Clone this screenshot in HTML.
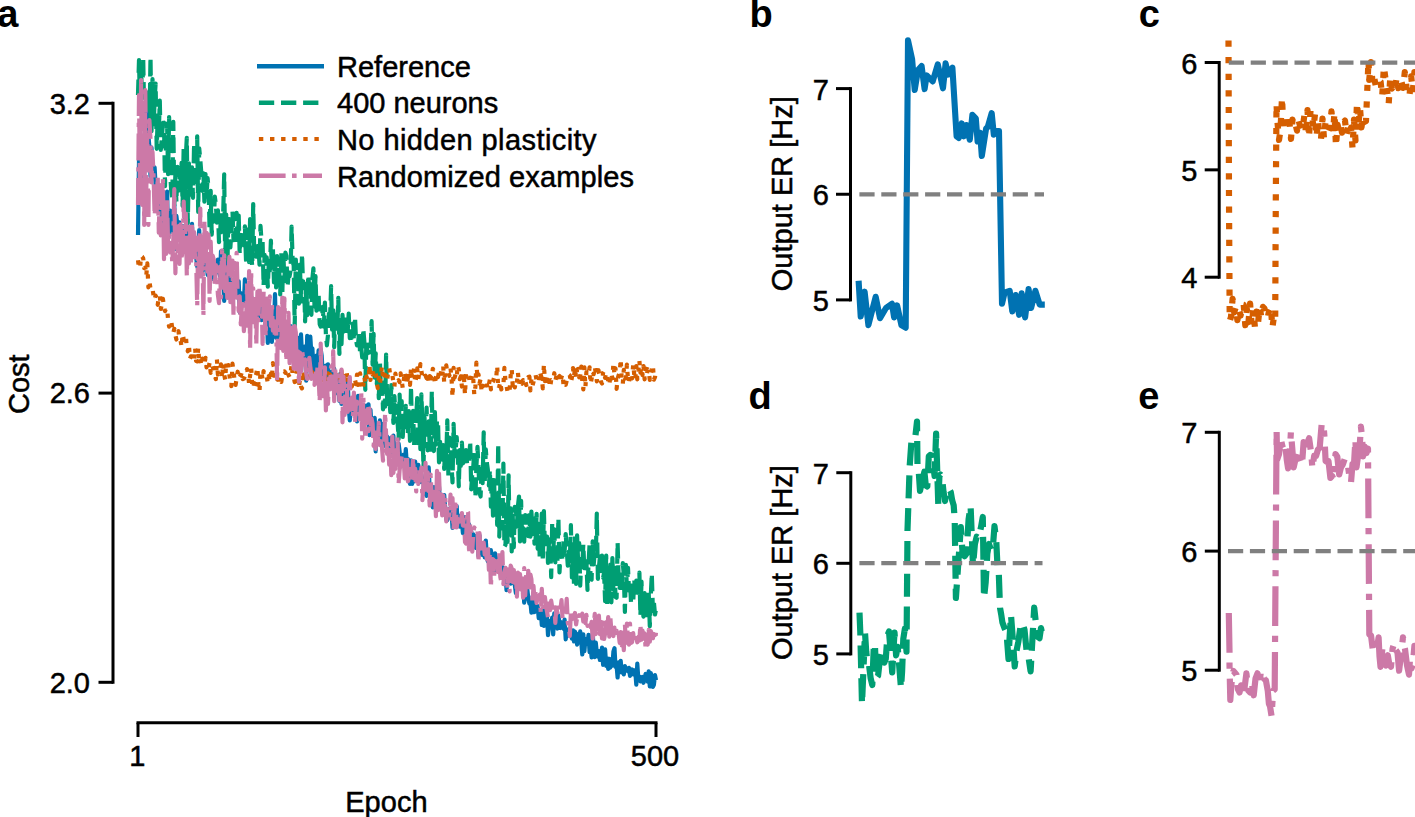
<!DOCTYPE html>
<html><head><meta charset="utf-8"><style>html,body{margin:0;padding:0;background:#fff;overflow:hidden}svg{display:block}</style></head>
<body><svg width="1415" height="817" viewBox="0 0 1415 817">
<rect width="1415" height="817" fill="#fff"/>
<path d="M138.0 95.0L139.0 60.0L140.1 110.0L141.1 70.0L142.2 100.0L143.2 57.6L144.2 115.9L145.3 125.3L146.3 92.0L147.3 117.5L148.4 94.0L149.4 133.4L150.5 57.0L151.5 131.2L152.5 79.0L153.6 126.5L154.6 99.8L155.6 83.5L156.7 148.8L157.7 117.5L158.8 131.8L159.8 100.7L160.8 149.9L161.9 136.8L162.9 122.9L164.0 122.7L165.0 186.2L166.0 142.1L167.1 123.5L168.1 174.2L169.1 117.1L170.2 173.6L171.2 190.6L172.3 199.5L173.3 121.9L174.3 205.4L175.4 174.1L176.4 202.0L177.4 166.8L178.5 190.7L179.5 170.5L180.6 187.7L181.6 162.9L182.6 206.0L183.7 146.2L184.7 217.8L185.8 157.0L186.8 137.9L187.8 223.2L188.9 163.3L189.9 197.2L190.9 183.0L192.0 167.3L193.0 197.8L194.1 143.5L195.1 187.1L196.1 170.3L197.2 136.4L198.2 211.9L199.2 148.3L200.3 159.8L201.3 172.7L202.4 190.8L203.4 173.3L204.4 201.7L205.5 174.2L206.5 196.7L207.6 178.2L208.6 189.1L209.6 229.2L210.7 190.8L211.7 234.7L212.7 218.9L213.8 221.3L214.8 196.5L215.9 205.1L216.9 222.7L217.9 210.3L219.0 242.2L220.0 237.3L221.0 212.5L222.1 234.5L223.1 217.7L224.2 174.3L225.2 259.4L226.2 214.5L227.3 275.5L228.3 216.2L229.4 246.7L230.4 247.2L231.4 231.8L232.5 211.5L233.5 240.2L234.5 230.5L235.6 240.0L236.6 212.8L237.7 243.3L238.7 215.5L239.7 254.0L240.8 229.8L241.8 242.1L242.8 234.1L243.9 245.3L244.9 226.3L246.0 259.9L247.0 262.2L248.0 229.4L249.1 262.1L250.1 219.1L251.2 252.8L252.2 266.3L253.2 204.1L254.3 255.1L255.3 252.8L256.3 256.7L257.4 246.0L258.4 246.4L259.5 264.6L260.5 225.9L261.5 240.6L262.6 241.9L263.6 285.7L264.6 254.8L265.7 277.9L266.7 257.4L267.8 286.6L268.8 261.7L269.8 270.5L270.9 240.5L271.9 271.5L272.9 248.4L274.0 282.4L275.0 256.4L276.1 287.5L277.1 256.2L278.1 279.3L279.2 270.2L280.2 294.4L281.3 251.8L282.3 294.7L283.3 252.3L284.4 281.2L285.4 252.7L286.4 255.8L287.5 286.6L288.5 275.9L289.6 276.2L290.6 270.0L291.6 226.5L292.7 262.2L293.7 265.3L294.7 326.7L295.8 259.6L296.8 278.9L297.9 278.9L298.9 303.6L299.9 264.7L301.0 301.5L302.0 253.8L303.1 285.8L304.1 283.3L305.1 321.5L306.2 285.2L307.2 315.1L308.2 275.1L309.3 287.4L310.3 279.2L311.4 314.8L312.4 278.5L313.4 268.4L314.5 306.7L315.5 276.2L316.5 310.7L317.6 301.0L318.6 294.2L319.7 324.2L320.7 326.6L321.7 323.1L322.8 306.8L323.8 326.7L324.9 302.6L325.9 334.6L326.9 345.4L328.0 334.9L329.0 312.0L330.0 320.5L331.1 286.2L332.1 329.6L333.2 310.4L334.2 347.2L335.2 310.9L336.3 310.3L337.3 328.9L338.3 297.9L339.4 354.0L340.4 319.8L341.5 344.1L342.5 314.8L343.5 331.7L344.6 322.6L345.6 330.8L346.7 316.3L347.7 331.2L348.7 313.7L349.8 338.1L350.8 326.0L351.8 337.9L352.9 323.7L353.9 340.7L355.0 316.9L356.0 339.7L357.0 345.4L358.1 343.9L359.1 331.4L360.1 353.9L361.2 347.1L362.2 357.3L363.3 328.7L364.3 341.1L365.3 389.8L366.4 340.1L367.4 353.2L368.5 351.6L369.5 354.6L370.5 353.1L371.6 321.2L372.6 364.6L373.6 333.9L374.7 377.7L375.7 353.3L376.8 384.0L377.8 366.9L378.8 398.1L379.9 360.8L380.9 392.0L381.9 378.2L383.0 409.3L384.0 385.5L385.1 406.6L386.1 354.6L387.1 397.9L388.2 406.0L389.2 394.9L390.3 412.2L391.3 385.2L392.3 399.3L393.4 423.0L394.4 396.0L395.4 413.3L396.5 405.9L397.5 420.5L398.6 438.9L399.6 394.5L400.6 424.6L401.7 401.2L402.7 437.0L403.7 421.0L404.8 423.1L405.8 405.9L406.9 434.5L407.9 433.1L408.9 411.0L410.0 440.8L411.0 386.2L412.1 438.3L413.1 410.8L414.1 445.6L415.2 411.4L416.2 417.6L417.2 398.1L418.3 447.4L419.3 411.6L420.4 449.2L421.4 394.4L422.4 423.1L423.5 469.3L424.5 417.4L425.5 434.6L426.6 407.5L427.6 450.3L428.7 421.3L429.7 447.0L430.7 451.7L431.8 391.2L432.8 448.9L433.9 451.0L434.9 412.1L435.9 444.6L437.0 420.4L438.0 420.6L439.0 462.3L440.1 441.9L441.1 458.0L442.2 459.6L443.2 445.1L444.2 469.0L445.3 447.1L446.3 457.0L447.3 420.4L448.4 475.9L449.4 437.7L450.5 444.9L451.5 464.5L452.5 482.5L453.6 423.9L454.6 456.5L455.7 449.1L456.7 437.0L457.7 454.1L458.8 486.3L459.8 450.2L460.8 465.8L461.9 442.5L462.9 463.5L464.0 455.1L465.0 460.6L466.0 450.2L467.1 464.3L468.1 464.9L469.1 463.3L470.2 441.1L471.2 489.3L472.3 473.3L473.3 466.4L474.3 450.6L475.4 497.3L476.4 466.2L477.5 446.9L478.5 467.2L479.5 492.7L480.6 496.5L481.6 469.2L482.6 483.2L483.7 432.4L484.7 483.6L485.8 449.4L486.8 462.4L487.8 469.2L488.9 485.5L489.9 470.0L490.9 506.6L492.0 477.3L493.0 515.6L494.1 480.2L495.1 517.7L496.1 493.9L497.2 525.0L498.2 443.6L499.3 536.6L500.3 485.4L501.3 524.4L502.4 528.4L503.4 463.6L504.4 546.7L505.5 544.9L506.5 504.6L507.6 541.9L508.6 475.3L509.6 534.6L510.7 508.4L511.7 551.5L512.7 515.3L513.8 547.3L514.8 506.9L515.9 508.4L516.9 526.7L517.9 506.4L519.0 496.5L520.0 541.5L521.1 500.9L522.1 537.4L523.1 528.2L524.2 541.6L525.2 515.0L526.2 527.4L527.3 515.8L528.3 536.2L529.4 515.2L530.4 536.6L531.4 511.6L532.5 534.2L533.5 518.4L534.5 543.6L535.6 538.8L536.6 513.8L537.7 548.8L538.7 523.8L539.7 556.9L540.8 548.9L541.8 513.6L542.8 561.5L543.9 511.0L544.9 547.4L546.0 548.1L547.0 536.6L548.0 563.0L549.1 539.3L550.1 540.3L551.2 577.1L552.2 522.8L553.2 553.0L554.3 529.4L555.3 562.3L556.3 548.5L557.4 562.5L558.4 518.0L559.5 572.4L560.5 554.6L561.5 551.0L562.6 561.2L563.6 539.1L564.6 551.3L565.7 534.0L566.7 549.9L567.8 565.6L568.8 551.7L569.8 560.9L570.9 525.0L571.9 577.5L573.0 546.1L574.0 585.4L575.0 536.2L576.1 583.9L577.1 535.4L578.1 561.5L579.2 543.2L580.2 585.7L581.3 558.9L582.3 565.5L583.3 544.3L584.4 571.6L585.4 563.8L586.4 561.5L587.5 589.9L588.5 564.6L589.6 543.8L590.6 578.8L591.6 579.6L592.7 541.3L593.7 564.3L594.8 552.2L595.8 554.8L596.8 513.6L597.9 578.8L598.9 567.9L599.9 556.6L601.0 571.2L602.0 555.5L603.1 577.6L604.1 572.9L605.1 601.1L606.2 555.5L607.2 607.0L608.2 575.8L609.3 595.2L610.3 564.5L611.4 602.3L612.4 558.1L613.4 589.8L614.5 562.8L615.5 597.0L616.6 597.7L617.6 542.3L618.6 576.8L619.7 587.8L620.7 570.2L621.7 592.3L622.8 563.0L623.8 575.1L624.9 611.9L625.9 564.9L626.9 588.1L628.0 567.9L629.0 590.6L630.0 582.2L631.1 603.7L632.1 580.1L633.2 602.5L634.2 578.7L635.2 592.9L636.3 580.6L637.3 597.0L638.4 596.6L639.4 572.6L640.4 615.9L641.5 581.6L642.5 611.1L643.5 616.7L644.6 593.2L645.6 604.9L646.7 599.7L647.7 618.8L648.7 592.1L649.8 626.3L650.8 595.6L651.8 573.5L652.9 610.9L653.9 602.4L655.0 614.5L656.0 609.3" fill="none" stroke="#009e73" stroke-width="4.2" stroke-dasharray="15.5 6.7" stroke-linejoin="round"/>
<path d="M138.0 235.0L139.0 160.0L140.1 190.0L141.1 140.0L142.2 185.0L143.2 150.0L144.2 175.0L145.3 145.0L146.3 112.5L147.3 147.8L148.4 135.5L149.4 147.2L150.5 176.2L151.5 147.6L152.5 176.3L153.6 172.7L154.6 167.4L155.6 185.3L156.7 199.3L157.7 185.5L158.8 193.6L159.8 211.5L160.8 189.2L161.9 220.6L162.9 198.1L164.0 211.8L165.0 233.9L166.0 216.3L167.1 191.5L168.1 238.5L169.1 230.4L170.2 210.7L171.2 224.2L172.3 215.0L173.3 233.0L174.3 205.0L175.4 248.9L176.4 215.9L177.4 225.7L178.5 231.2L179.5 222.4L180.6 227.0L181.6 246.0L182.6 226.2L183.7 238.5L184.7 235.1L185.8 242.8L186.8 225.9L187.8 251.4L188.9 249.9L189.9 229.7L190.9 243.5L192.0 223.8L193.0 254.1L194.1 252.5L195.1 242.0L196.1 256.5L197.2 266.6L198.2 247.8L199.2 230.0L200.3 265.8L201.3 242.0L202.4 271.6L203.4 269.2L204.4 244.1L205.5 268.5L206.5 256.3L207.6 275.0L208.6 261.1L209.6 276.9L210.7 258.1L211.7 279.0L212.7 263.8L213.8 275.9L214.8 267.3L215.9 273.0L216.9 268.3L217.9 259.5L219.0 266.2L220.0 276.1L221.0 251.4L222.1 276.2L223.1 265.5L224.2 301.0L225.2 263.0L226.2 281.4L227.3 287.6L228.3 273.0L229.4 274.8L230.4 290.0L231.4 280.1L232.5 286.4L233.5 280.8L234.5 291.5L235.6 293.4L236.6 286.3L237.7 291.8L238.7 281.3L239.7 312.2L240.8 293.0L241.8 303.2L242.8 298.5L243.9 303.1L244.9 279.4L246.0 299.7L247.0 306.1L248.0 311.9L249.1 301.4L250.1 314.5L251.2 296.5L252.2 311.9L253.2 303.8L254.3 302.8L255.3 314.8L256.3 301.8L257.4 306.4L258.4 317.9L259.5 305.5L260.5 300.0L261.5 320.1L262.6 318.7L263.6 308.2L264.6 316.1L265.7 327.9L266.7 312.7L267.8 342.9L268.8 303.7L269.8 324.2L270.9 315.2L271.9 341.9L272.9 323.2L274.0 327.2L275.0 294.2L276.1 337.8L277.1 335.1L278.1 317.3L279.2 337.8L280.2 340.9L281.3 328.1L282.3 347.6L283.3 311.4L284.4 328.9L285.4 340.4L286.4 333.6L287.5 343.5L288.5 332.7L289.6 341.2L290.6 326.2L291.6 341.5L292.7 333.4L293.7 332.6L294.7 337.9L295.8 353.5L296.8 341.4L297.9 347.2L298.9 337.8L299.9 351.2L301.0 334.3L302.0 355.7L303.1 348.2L304.1 363.6L305.1 346.3L306.2 380.6L307.2 335.9L308.2 356.9L309.3 350.2L310.3 336.6L311.4 354.6L312.4 348.4L313.4 368.3L314.5 372.0L315.5 361.6L316.5 355.5L317.6 368.4L318.6 350.3L319.7 375.6L320.7 349.2L321.7 355.8L322.8 376.6L323.8 370.5L324.9 373.4L325.9 365.5L326.9 385.0L328.0 364.3L329.0 385.1L330.0 375.9L331.1 380.5L332.1 371.5L333.2 387.8L334.2 368.6L335.2 388.0L336.3 375.8L337.3 393.4L338.3 380.1L339.4 400.9L340.4 373.6L341.5 403.9L342.5 379.7L343.5 394.5L344.6 389.6L345.6 386.6L346.7 397.7L347.7 380.0L348.7 407.0L349.8 420.4L350.8 404.2L351.8 410.8L352.9 397.8L353.9 411.9L355.0 399.6L356.0 413.5L357.0 421.3L358.1 395.8L359.1 416.3L360.1 406.8L361.2 412.8L362.2 410.1L363.3 421.8L364.3 423.2L365.3 411.3L366.4 405.7L367.4 423.5L368.5 404.4L369.5 435.1L370.5 409.9L371.6 429.2L372.6 420.0L373.6 424.2L374.7 417.9L375.7 451.4L376.8 425.5L377.8 430.5L378.8 438.7L379.9 420.3L380.9 442.8L381.9 438.7L383.0 423.9L384.0 438.8L385.1 446.0L386.1 439.3L387.1 436.5L388.2 449.6L389.2 438.9L390.3 452.9L391.3 437.5L392.3 450.2L393.4 435.7L394.4 450.7L395.4 463.3L396.5 454.6L397.5 452.1L398.6 443.5L399.6 451.5L400.6 464.4L401.7 457.5L402.7 466.0L403.7 454.6L404.8 465.2L405.8 449.1L406.9 466.4L407.9 459.1L408.9 476.4L410.0 484.0L411.0 460.3L412.1 484.0L413.1 461.6L414.1 481.4L415.2 461.5L416.2 478.5L417.2 476.5L418.3 464.8L419.3 479.4L420.4 481.9L421.4 474.8L422.4 480.3L423.5 481.2L424.5 493.8L425.5 486.6L426.6 495.8L427.6 488.0L428.7 467.4L429.7 490.6L430.7 489.6L431.8 498.7L432.8 507.3L433.9 487.2L434.9 497.4L435.9 488.6L437.0 504.9L438.0 485.8L439.0 486.6L440.1 504.1L441.1 499.6L442.2 513.2L443.2 514.1L444.2 495.0L445.3 510.6L446.3 519.2L447.3 520.1L448.4 508.9L449.4 513.7L450.5 517.5L451.5 509.1L452.5 528.0L453.6 521.8L454.6 509.4L455.7 525.4L456.7 506.0L457.7 525.5L458.8 515.5L459.8 526.6L460.8 523.0L461.9 521.2L462.9 533.2L464.0 523.2L465.0 517.1L466.0 531.0L467.1 522.4L468.1 537.6L469.1 524.4L470.2 538.4L471.2 531.1L472.3 549.2L473.3 534.4L474.3 545.7L475.4 536.2L476.4 548.1L477.5 535.5L478.5 556.2L479.5 535.3L480.6 553.1L481.6 543.7L482.6 555.0L483.7 545.7L484.7 557.3L485.8 540.5L486.8 556.6L487.8 561.3L488.9 552.5L489.9 561.8L490.9 550.2L492.0 559.1L493.0 557.6L494.1 571.6L495.1 553.4L496.1 558.7L497.2 567.1L498.2 566.1L499.3 558.4L500.3 571.7L501.3 564.6L502.4 568.3L503.4 567.7L504.4 581.0L505.5 569.2L506.5 590.2L507.6 573.0L508.6 578.7L509.6 572.2L510.7 583.6L511.7 582.5L512.7 576.2L513.8 574.3L514.8 584.9L515.9 593.1L516.9 591.0L517.9 576.2L519.0 584.4L520.0 576.6L521.1 588.7L522.1 582.1L523.1 583.7L524.2 602.6L525.2 591.0L526.2 597.1L527.3 589.2L528.3 598.5L529.4 603.6L530.4 602.1L531.4 612.6L532.5 596.6L533.5 612.2L534.5 611.9L535.6 607.3L536.6 605.5L537.7 606.3L538.7 618.1L539.7 610.8L540.8 610.4L541.8 625.0L542.8 616.1L543.9 625.8L544.9 606.8L546.0 620.2L547.0 616.1L548.0 635.2L549.1 625.8L550.1 621.1L551.2 625.3L552.2 617.5L553.2 634.4L554.3 613.4L555.3 622.9L556.3 623.7L557.4 628.5L558.4 615.4L559.5 623.1L560.5 628.0L561.5 622.3L562.6 626.0L563.6 628.8L564.6 619.6L565.7 639.3L566.7 631.8L567.8 634.6L568.8 629.1L569.8 635.9L570.9 632.7L571.9 638.6L573.0 630.3L574.0 641.5L575.0 631.6L576.1 634.6L577.1 644.6L578.1 634.0L579.2 642.4L580.2 631.4L581.3 642.6L582.3 654.5L583.3 634.4L584.4 651.1L585.4 639.0L586.4 639.2L587.5 643.7L588.5 634.9L589.6 652.1L590.6 645.6L591.6 657.3L592.7 633.3L593.7 648.6L594.8 657.1L595.8 642.6L596.8 652.6L597.9 656.5L598.9 651.1L599.9 659.9L601.0 658.6L602.0 647.7L603.1 664.8L604.1 658.3L605.1 649.3L606.2 665.9L607.2 658.3L608.2 668.9L609.3 658.8L610.3 667.6L611.4 659.2L612.4 665.6L613.4 651.7L614.5 648.2L615.5 667.0L616.6 665.8L617.6 677.5L618.6 662.3L619.7 669.9L620.7 660.8L621.7 672.5L622.8 667.2L623.8 674.4L624.9 666.1L625.9 669.8L626.9 668.4L628.0 671.3L629.0 667.8L630.0 675.8L631.1 673.0L632.1 669.5L633.2 674.3L634.2 672.1L635.2 670.3L636.3 684.7L637.3 663.7L638.4 680.4L639.4 676.5L640.4 681.4L641.5 678.7L642.5 677.0L643.5 682.8L644.6 678.2L645.6 674.0L646.7 675.1L647.7 681.7L648.7 671.3L649.8 686.4L650.8 673.1L651.8 679.3L652.9 686.9L653.9 684.8L655.0 675.1L656.0 680.2" fill="none" stroke="#0072b2" stroke-width="4.2" stroke-linejoin="round"/>
<path d="M138.0 260.2L139.0 268.2L140.1 267.3L141.1 255.8L142.2 256.7L143.2 258.4L144.2 268.1L145.3 267.5L146.3 275.5L147.3 263.4L148.4 287.3L149.4 280.8L150.5 288.9L151.5 287.5L152.5 288.7L153.6 295.7L154.6 299.8L155.6 295.6L156.7 297.9L157.7 304.8L158.8 297.5L159.8 295.5L160.8 308.9L161.9 304.3L162.9 298.7L164.0 307.2L165.0 311.1L166.0 308.6L167.1 308.7L168.1 319.7L169.1 326.7L170.2 321.8L171.2 320.6L172.3 329.2L173.3 333.0L174.3 328.7L175.4 335.1L176.4 339.5L177.4 333.5L178.5 331.2L179.5 339.6L180.6 340.4L181.6 347.0L182.6 334.1L183.7 339.2L184.7 339.6L185.8 335.4L186.8 347.7L187.8 351.3L188.9 344.8L189.9 358.7L190.9 356.4L192.0 356.4L193.0 356.2L194.1 360.6L195.1 348.0L196.1 360.8L197.2 361.4L198.2 347.8L199.2 361.2L200.3 358.3L201.3 365.1L202.4 358.5L203.4 361.6L204.4 364.5L205.5 357.8L206.5 367.3L207.6 363.8L208.6 368.0L209.6 362.6L210.7 372.8L211.7 370.3L212.7 366.0L213.8 371.3L214.8 375.5L215.9 379.1L216.9 359.3L217.9 374.5L219.0 372.4L220.0 369.4L221.0 364.3L222.1 378.3L223.1 363.5L224.2 374.9L225.2 379.6L226.2 362.6L227.3 370.7L228.3 365.1L229.4 374.7L230.4 382.7L231.4 386.1L232.5 363.7L233.5 371.3L234.5 379.3L235.6 384.9L236.6 378.3L237.7 371.7L238.7 378.3L239.7 376.8L240.8 375.7L241.8 372.5L242.8 379.2L243.9 378.7L244.9 376.2L246.0 375.4L247.0 369.0L248.0 373.8L249.1 383.9L250.1 375.5L251.2 367.9L252.2 384.5L253.2 379.7L254.3 389.1L255.3 376.8L256.3 373.6L257.4 367.6L258.4 384.2L259.5 391.6L260.5 371.3L261.5 372.3L262.6 379.7L263.6 371.1L264.6 374.5L265.7 374.0L266.7 377.2L267.8 382.6L268.8 376.1L269.8 381.5L270.9 373.5L271.9 377.9L272.9 363.1L274.0 367.2L275.0 380.7L276.1 372.3L277.1 379.3L278.1 379.1L279.2 383.7L280.2 380.6L281.3 381.9L282.3 375.1L283.3 371.5L284.4 371.3L285.4 372.7L286.4 368.9L287.5 372.3L288.5 375.0L289.6 377.1L290.6 373.5L291.6 364.0L292.7 375.1L293.7 376.8L294.7 382.0L295.8 378.9L296.8 371.6L297.9 371.1L298.9 387.4L299.9 379.9L301.0 386.5L302.0 388.4L303.1 370.8L304.1 378.1L305.1 378.7L306.2 379.4L307.2 379.4L308.2 377.5L309.3 377.5L310.3 367.5L311.4 375.7L312.4 372.3L313.4 377.6L314.5 374.2L315.5 380.8L316.5 382.2L317.6 379.2L318.6 379.4L319.7 378.2L320.7 375.0L321.7 376.9L322.8 375.0L323.8 380.4L324.9 378.3L325.9 381.8L326.9 370.5L328.0 383.9L329.0 374.1L330.0 374.4L331.1 377.7L332.1 375.6L333.2 380.9L334.2 375.8L335.2 373.0L336.3 374.4L337.3 387.5L338.3 380.0L339.4 372.8L340.4 380.0L341.5 370.8L342.5 390.9L343.5 371.2L344.6 383.3L345.6 383.8L346.7 372.0L347.7 382.6L348.7 386.9L349.8 383.8L350.8 382.5L351.8 386.6L352.9 381.7L353.9 382.7L355.0 379.8L356.0 384.2L357.0 374.7L358.1 385.0L359.1 377.1L360.1 373.4L361.2 382.1L362.2 389.9L363.3 385.4L364.3 376.5L365.3 383.6L366.4 376.6L367.4 378.5L368.5 379.6L369.5 365.1L370.5 380.0L371.6 372.6L372.6 374.5L373.6 369.7L374.7 369.3L375.7 372.7L376.8 383.2L377.8 388.1L378.8 377.9L379.9 384.4L380.9 376.2L381.9 366.2L383.0 378.5L384.0 380.1L385.1 374.8L386.1 379.0L387.1 380.6L388.2 371.8L389.2 368.0L390.3 375.5L391.3 375.4L392.3 374.5L393.4 382.4L394.4 386.7L395.4 373.7L396.5 380.3L397.5 381.7L398.6 380.2L399.6 382.1L400.6 373.4L401.7 380.2L402.7 387.9L403.7 380.5L404.8 372.0L405.8 379.3L406.9 383.2L407.9 377.8L408.9 372.2L410.0 384.8L411.0 368.1L412.1 378.6L413.1 375.4L414.1 368.3L415.2 382.8L416.2 377.5L417.2 368.4L418.3 379.0L419.3 372.8L420.4 364.0L421.4 371.2L422.4 376.9L423.5 379.1L424.5 376.3L425.5 375.6L426.6 378.1L427.6 374.0L428.7 382.3L429.7 376.1L430.7 377.0L431.8 378.4L432.8 368.8L433.9 370.9L434.9 384.3L435.9 377.1L437.0 373.4L438.0 377.1L439.0 372.1L440.1 376.7L441.1 371.0L442.2 376.6L443.2 365.5L444.2 382.9L445.3 371.8L446.3 365.4L447.3 373.5L448.4 372.6L449.4 375.8L450.5 368.0L451.5 377.5L452.5 397.0L453.6 367.8L454.6 377.6L455.7 373.9L456.7 377.1L457.7 365.3L458.8 369.4L459.8 379.2L460.8 376.4L461.9 386.6L462.9 372.8L464.0 378.2L465.0 394.8L466.0 372.9L467.1 372.3L468.1 377.7L469.1 377.8L470.2 383.3L471.2 379.2L472.3 374.0L473.3 380.0L474.3 394.8L475.4 386.7L476.4 362.6L477.5 378.6L478.5 374.4L479.5 383.5L480.6 378.9L481.6 391.7L482.6 385.9L483.7 385.8L484.7 381.8L485.8 380.6L486.8 383.1L487.8 389.0L488.9 384.6L489.9 379.4L490.9 389.4L492.0 383.0L493.0 381.6L494.1 377.5L495.1 379.0L496.1 378.8L497.2 366.0L498.2 389.0L499.3 386.5L500.3 381.9L501.3 389.4L502.4 385.6L503.4 385.1L504.4 367.9L505.5 381.3L506.5 385.7L507.6 392.1L508.6 393.4L509.6 390.8L510.7 375.1L511.7 368.8L512.7 385.3L513.8 381.9L514.8 387.4L515.9 380.8L516.9 382.8L517.9 372.3L519.0 383.9L520.0 378.4L521.1 383.1L522.1 383.7L523.1 380.1L524.2 382.6L525.2 380.5L526.2 385.0L527.3 383.4L528.3 377.0L529.4 376.6L530.4 390.5L531.4 379.3L532.5 385.7L533.5 382.0L534.5 376.2L535.6 375.0L536.6 380.1L537.7 380.8L538.7 382.8L539.7 371.4L540.8 375.3L541.8 378.2L542.8 388.3L543.9 364.4L544.9 381.1L546.0 375.1L547.0 380.8L548.0 375.2L549.1 380.2L550.1 387.3L551.2 380.0L552.2 380.4L553.2 380.0L554.3 373.2L555.3 380.9L556.3 376.4L557.4 372.7L558.4 377.3L559.5 376.1L560.5 382.0L561.5 377.1L562.6 374.2L563.6 386.0L564.6 383.2L565.7 384.8L566.7 380.8L567.8 376.4L568.8 374.5L569.8 375.3L570.9 382.6L571.9 377.6L573.0 368.0L574.0 376.6L575.0 368.3L576.1 377.7L577.1 369.4L578.1 369.0L579.2 377.3L580.2 376.0L581.3 366.5L582.3 380.9L583.3 389.3L584.4 367.4L585.4 387.2L586.4 372.1L587.5 373.2L588.5 375.0L589.6 367.4L590.6 383.8L591.6 378.9L592.7 371.4L593.7 374.2L594.8 366.7L595.8 373.7L596.8 381.3L597.9 365.4L598.9 373.0L599.9 376.4L601.0 381.8L602.0 383.5L603.1 372.6L604.1 370.9L605.1 378.0L606.2 373.0L607.2 373.3L608.2 381.6L609.3 385.2L610.3 376.6L611.4 373.7L612.4 378.3L613.4 363.5L614.5 374.6L615.5 368.3L616.6 388.9L617.6 378.9L618.6 375.3L619.7 373.3L620.7 359.3L621.7 378.6L622.8 384.0L623.8 369.8L624.9 378.2L625.9 378.4L626.9 364.7L628.0 379.5L629.0 382.0L630.0 375.2L631.1 373.4L632.1 378.4L633.2 364.4L634.2 374.1L635.2 379.8L636.3 366.0L637.3 379.3L638.4 370.8L639.4 360.8L640.4 372.6L641.5 367.3L642.5 375.0L643.5 366.0L644.6 379.3L645.6 368.5L646.7 375.0L647.7 369.2L648.7 370.8L649.8 379.8L650.8 373.9L651.8 370.3L652.9 365.1L653.9 379.6L655.0 377.1L656.0 370.7" fill="none" stroke="#d55e00" stroke-width="4.2" stroke-dasharray="4.2 6.9" stroke-linejoin="round"/>
<path d="M138.0 205.0L139.0 95.0L140.1 200.0L141.1 80.0L142.2 205.0L143.2 110.0L144.2 225.0L145.3 90.0L146.3 190.0L147.3 130.0L148.4 225.0L149.4 120.0L150.5 139.2L151.5 182.4L152.5 151.8L153.6 176.5L154.6 215.6L155.6 202.4L156.7 210.7L157.7 176.3L158.8 232.7L159.8 185.2L160.8 235.4L161.9 206.0L162.9 177.8L164.0 259.1L165.0 215.5L166.0 254.0L167.1 200.2L168.1 244.9L169.1 235.3L170.2 252.5L171.2 242.8L172.3 263.5L173.3 240.1L174.3 189.2L175.4 273.3L176.4 236.1L177.4 254.7L178.5 226.1L179.5 264.0L180.6 224.3L181.6 260.2L182.6 248.0L183.7 201.5L184.7 251.6L185.8 213.5L186.8 275.5L187.8 237.5L188.9 263.4L189.9 222.8L190.9 265.9L192.0 222.6L193.0 251.9L194.1 232.2L195.1 260.5L196.1 258.8L197.2 305.9L198.2 237.3L199.2 270.2L200.3 208.5L201.3 278.9L202.4 236.3L203.4 315.8L204.4 220.1L205.5 263.9L206.5 232.8L207.6 271.6L208.6 234.6L209.6 301.0L210.7 241.7L211.7 273.7L212.7 255.7L213.8 259.7L214.8 287.0L215.9 265.1L216.9 276.8L217.9 294.7L219.0 303.1L220.0 266.7L221.0 297.4L222.1 250.4L223.1 290.3L224.2 255.3L225.2 291.1L226.2 268.3L227.3 297.9L228.3 274.2L229.4 256.8L230.4 302.1L231.4 278.5L232.5 260.6L233.5 315.9L234.5 262.8L235.6 301.7L236.6 252.9L237.7 293.8L238.7 310.9L239.7 296.3L240.8 324.5L241.8 307.1L242.8 304.1L243.9 331.2L244.9 313.1L246.0 330.6L247.0 283.4L248.0 326.3L249.1 271.1L250.1 349.4L251.2 271.5L252.2 326.4L253.2 288.3L254.3 326.0L255.3 306.1L256.3 344.8L257.4 291.7L258.4 322.3L259.5 286.0L260.5 304.2L261.5 293.9L262.6 343.9L263.6 291.3L264.6 309.9L265.7 336.3L266.7 298.7L267.8 321.4L268.8 305.3L269.8 296.4L270.9 326.0L271.9 303.5L272.9 330.7L274.0 321.2L275.0 337.7L276.1 321.4L277.1 381.7L278.1 307.2L279.2 326.0L280.2 309.0L281.3 348.3L282.3 297.5L283.3 351.0L284.4 298.4L285.4 333.8L286.4 361.4L287.5 322.5L288.5 312.8L289.6 363.2L290.6 331.1L291.6 357.8L292.7 327.4L293.7 368.6L294.7 326.1L295.8 332.4L296.8 369.5L297.9 351.4L298.9 381.7L299.9 352.6L301.0 371.7L302.0 349.9L303.1 357.7L304.1 364.5L305.1 359.3L306.2 373.0L307.2 379.0L308.2 365.9L309.3 357.8L310.3 367.3L311.4 378.8L312.4 372.3L313.4 372.2L314.5 384.9L315.5 373.4L316.5 383.5L317.6 365.0L318.6 377.1L319.7 401.3L320.7 343.6L321.7 392.6L322.8 384.1L323.8 400.8L324.9 367.3L325.9 410.4L326.9 384.2L328.0 403.8L329.0 378.3L330.0 389.5L331.1 366.3L332.1 388.4L333.2 351.1L334.2 401.1L335.2 368.8L336.3 390.6L337.3 388.9L338.3 375.5L339.4 400.3L340.4 378.6L341.5 369.5L342.5 422.3L343.5 376.7L344.6 415.0L345.6 383.8L346.7 383.2L347.7 411.9L348.7 390.8L349.8 377.0L350.8 409.6L351.8 397.6L352.9 416.8L353.9 392.6L355.0 423.2L356.0 401.6L357.0 401.8L358.1 403.5L359.1 402.9L360.1 422.1L361.2 390.6L362.2 438.7L363.3 396.5L364.3 417.7L365.3 439.1L366.4 425.4L367.4 409.2L368.5 431.1L369.5 408.6L370.5 431.8L371.6 418.7L372.6 424.0L373.6 445.8L374.7 435.4L375.7 448.8L376.8 429.9L377.8 444.0L378.8 422.8L379.9 445.1L380.9 441.2L381.9 446.0L383.0 460.7L384.0 448.2L385.1 412.9L386.1 434.0L387.1 453.9L388.2 443.8L389.2 464.7L390.3 445.4L391.3 475.2L392.3 436.6L393.4 472.8L394.4 446.7L395.4 468.9L396.5 460.1L397.5 435.3L398.6 483.7L399.6 470.1L400.6 463.1L401.7 455.9L402.7 465.9L403.7 460.0L404.8 478.4L405.8 457.4L406.9 454.8L407.9 481.3L408.9 478.2L410.0 464.9L411.0 466.7L412.1 477.6L413.1 458.0L414.1 478.5L415.2 468.8L416.2 491.5L417.2 475.6L418.3 484.0L419.3 468.4L420.4 480.3L421.4 467.6L422.4 500.2L423.5 482.1L424.5 490.0L425.5 462.9L426.6 494.1L427.6 472.4L428.7 489.0L429.7 505.5L430.7 474.7L431.8 500.1L432.8 491.6L433.9 497.5L434.9 489.9L435.9 516.2L437.0 470.9L438.0 510.2L439.0 473.6L440.1 503.9L441.1 494.4L442.2 515.3L443.2 495.5L444.2 512.5L445.3 497.7L446.3 521.4L447.3 509.8L448.4 507.1L449.4 515.2L450.5 494.5L451.5 519.0L452.5 498.0L453.6 529.7L454.6 507.2L455.7 499.9L456.7 527.5L457.7 518.8L458.8 521.8L459.8 516.0L460.8 524.9L461.9 513.0L462.9 525.4L464.0 517.3L465.0 542.1L466.0 543.5L467.1 510.3L468.1 512.3L469.1 553.8L470.2 523.2L471.2 532.1L472.3 551.6L473.3 531.4L474.3 527.5L475.4 529.5L476.4 531.6L477.5 529.9L478.5 562.2L479.5 533.2L480.6 549.4L481.6 546.8L482.6 551.0L483.7 542.6L484.7 554.3L485.8 550.9L486.8 559.1L487.8 544.1L488.9 570.0L489.9 552.6L490.9 587.5L492.0 561.9L493.0 559.2L494.1 577.0L495.1 560.8L496.1 567.4L497.2 562.8L498.2 572.1L499.3 552.8L500.3 577.0L501.3 581.6L502.4 552.0L503.4 584.2L504.4 572.1L505.5 567.9L506.5 573.2L507.6 588.9L508.6 569.4L509.6 591.4L510.7 565.6L511.7 568.4L512.7 581.8L513.8 570.0L514.8 582.8L515.9 573.8L516.9 596.6L517.9 572.5L519.0 587.7L520.0 574.1L521.1 589.7L522.1 581.4L523.1 597.6L524.2 568.2L525.2 595.3L526.2 575.0L527.3 586.0L528.3 570.9L529.4 591.0L530.4 574.5L531.4 579.2L532.5 603.0L533.5 585.9L534.5 601.2L535.6 591.3L536.6 603.0L537.7 595.8L538.7 599.0L539.7 594.7L540.8 612.6L541.8 588.9L542.8 609.5L543.9 603.7L544.9 597.0L546.0 606.4L547.0 611.5L548.0 617.3L549.1 600.6L550.1 610.2L551.2 600.7L552.2 607.6L553.2 602.8L554.3 603.9L555.3 622.9L556.3 608.2L557.4 612.7L558.4 605.3L559.5 612.6L560.5 609.1L561.5 600.2L562.6 619.2L563.6 611.3L564.6 614.9L565.7 613.4L566.7 598.9L567.8 622.6L568.8 626.2L569.8 636.0L570.9 611.7L571.9 619.3L573.0 612.2L574.0 618.1L575.0 613.0L576.1 624.4L577.1 617.6L578.1 619.5L579.2 615.2L580.2 621.0L581.3 615.6L582.3 613.7L583.3 621.4L584.4 620.4L585.4 623.1L586.4 614.9L587.5 625.8L588.5 621.4L589.6 622.4L590.6 627.1L591.6 621.8L592.7 638.5L593.7 625.0L594.8 613.8L595.8 634.1L596.8 624.7L597.9 633.1L598.9 615.6L599.9 634.1L601.0 621.8L602.0 638.3L603.1 622.7L604.1 639.0L605.1 633.6L606.2 622.0L607.2 631.9L608.2 617.2L609.3 636.6L610.3 616.6L611.4 631.3L612.4 632.1L613.4 636.0L614.5 627.6L615.5 632.5L616.6 630.8L617.6 637.5L618.6 633.3L619.7 642.8L620.7 632.2L621.7 645.4L622.8 633.3L623.8 650.1L624.9 624.2L625.9 642.9L626.9 623.7L628.0 637.8L629.0 644.6L630.0 623.6L631.1 642.8L632.1 642.0L633.2 633.2L634.2 643.3L635.2 632.8L636.3 636.8L637.3 642.3L638.4 636.8L639.4 640.5L640.4 624.6L641.5 639.7L642.5 630.6L643.5 638.6L644.6 633.2L645.6 648.4L646.7 634.9L647.7 644.7L648.7 629.9L649.8 641.7L650.8 631.0L651.8 635.5L652.9 638.2L653.9 634.0L655.0 639.8L656.0 632.6" fill="none" stroke="#cc79a7" stroke-width="4.2" stroke-dasharray="26.9 6.7 4.2 6.7" stroke-linejoin="round"/>
<g stroke="#000" stroke-width="3" fill="none">
<path d="M113 101.8V683.8"/>
<path d="M98.5 103.3H113"/>
<path d="M98.5 393.1H113"/>
<path d="M98.5 682.3H113"/>
<path d="M136.5 722.8H657.5"/>
<path d="M138 722.8V737"/><path d="M656 722.8V737"/>
</g>
<g font-family="Liberation Sans" stroke="#000" stroke-width="0.5" font-size="29" fill="#000">
<text x="90" y="113.5" text-anchor="end">3.2</text>
<text x="90" y="403.3" text-anchor="end">2.6</text>
<text x="90" y="692.5" text-anchor="end">2.0</text>
<text x="137.2" y="766" text-anchor="middle">1</text>
<text x="655" y="766" text-anchor="middle">500</text>
<text x="386.4" y="811.6" text-anchor="middle">Epoch</text>
<text transform="translate(28.9 384.2) rotate(-90)" text-anchor="middle">Cost</text>
<text x="337" y="76.7">Reference</text>
<text x="337" y="113.3">400 neurons</text>
<text x="337" y="150.2" textLength="259.5" lengthAdjust="spacing">No hidden plasticity</text>
<text x="337" y="186.8" textLength="297" lengthAdjust="spacing">Randomized examples</text>
</g>
<path d="M257 66.2H324" stroke="#0072b2" stroke-width="4.5"/>
<path d="M258.9 102.8H319" stroke="#009e73" stroke-width="4.5" stroke-dasharray="15.3 6.8"/>
<path d="M258.9 139H319" stroke="#d55e00" stroke-width="4.2" stroke-dasharray="4.4 6.7"/>
<path d="M258.9 175.8H322" stroke="#cc79a7" stroke-width="4.5" stroke-dasharray="26.7 6.4 4.6 6.4"/>
<g font-family="Liberation Sans" font-size="38" font-weight="bold" fill="#000">
<text x="-2.8" y="27.1">a</text>
<text x="749.4" y="27.1">b</text>
<text x="1138.7" y="27.1">c</text>
<text x="748.4" y="409">d</text>
<text x="1138.3" y="409">e</text>
</g>
<g stroke="#000" stroke-width="3" fill="none">
<path d="M850.5 87.1V301.4"/>
<path d="M836.0 88.6H850.5"/>
<path d="M836.0 194.25H850.5"/>
<path d="M836.0 299.9H850.5"/>
</g>
<g font-family="Liberation Sans" stroke="#000" stroke-width="0.5" font-size="29" fill="#000">
<text x="829" y="99.6" text-anchor="end">7</text>
<text x="829" y="205.2" text-anchor="end">6</text>
<text x="829" y="310.9" text-anchor="end">5</text>
</g>
<text font-family="Liberation Sans" stroke="#000" stroke-width="0.5" font-size="29" transform="translate(792 193.7) rotate(-90)" text-anchor="middle">Output ER [Hz]</text>
<g stroke="#000" stroke-width="3" fill="none">
<path d="M1219.2 61V278.7"/>
<path d="M1204.7 62.5H1219.2"/>
<path d="M1204.7 169.85H1219.2"/>
<path d="M1204.7 277.2H1219.2"/>
</g>
<g font-family="Liberation Sans" stroke="#000" stroke-width="0.5" font-size="29" fill="#000">
<text x="1197.5" y="73.5" text-anchor="end">6</text>
<text x="1197.5" y="180.8" text-anchor="end">5</text>
<text x="1197.5" y="288.2" text-anchor="end">4</text>
</g>
<g stroke="#000" stroke-width="3" fill="none">
<path d="M850.8 471.2V655.4"/>
<path d="M836.3 472.7H850.8"/>
<path d="M836.3 563.3H850.8"/>
<path d="M836.3 653.9H850.8"/>
</g>
<g font-family="Liberation Sans" stroke="#000" stroke-width="0.5" font-size="29" fill="#000">
<text x="829" y="483.7" text-anchor="end">7</text>
<text x="829" y="574.3" text-anchor="end">6</text>
<text x="829" y="664.9" text-anchor="end">5</text>
</g>
<text font-family="Liberation Sans" stroke="#000" stroke-width="0.5" font-size="29" transform="translate(792 562.6) rotate(-90)" text-anchor="middle">Output ER [Hz]</text>
<g stroke="#000" stroke-width="3" fill="none">
<path d="M1219.3 430.8V671.7"/>
<path d="M1204.8 432.3H1219.3"/>
<path d="M1204.8 551.1H1219.3"/>
<path d="M1204.8 670.2H1219.3"/>
</g>
<g font-family="Liberation Sans" stroke="#000" stroke-width="0.5" font-size="29" fill="#000">
<text x="1197.5" y="443.3" text-anchor="end">7</text>
<text x="1197.5" y="562.1" text-anchor="end">6</text>
<text x="1197.5" y="681.2" text-anchor="end">5</text>
</g>
<path d="M858.6 280.8L860.7 316.5L864.6 291.7L868.4 325.1L875.7 296.8L880.0 318.2L886.0 308.0L892.0 303.7L894.1 317.4L897.1 305.4L901.4 325.1L905.7 327.7L908.0 40.3L912.1 59.1L914.7 90.0L918.0 70.0L921.6 66.0L924.6 89.1L926.7 75.4L932.7 81.4L937.8 64.3L943.0 88.3L945.6 63.4L948.1 74.6L952.4 67.7L956.6 136.3L958.7 138.0L961.7 123.4L963.9 136.3L966.4 125.1L969.8 139.7L972.4 114.9L975.8 118.3L977.6 141.4L980.1 132.8L981.8 156.0L986.1 128.6L987.8 126.8L991.7 113.1L993.8 134.6L996.4 131.1L999.0 131.1L1002.0 303.7L1004.6 292.6L1009.7 290.8L1012.3 311.4L1015.7 295.1L1019.1 314.8L1021.7 293.4L1025.1 317.4L1028.6 289.1L1031.1 308.0L1035.4 290.8L1039.7 304.6L1044.8 304.6" fill="none" stroke="#0072b2" stroke-width="6.1" stroke-linejoin="round"/>
<path d="M1228.5 40.5L1229.0 200.0L1229.7 321.3L1231.0 316.8L1232.6 298.9L1234.2 312.4L1235.8 306.9L1237.4 320.2L1239.0 309.8L1240.6 315.6L1242.1 304.4L1243.7 304.8L1245.3 325.2L1246.9 309.2L1248.5 322.1L1250.1 303.6L1251.7 325.5L1253.3 310.3L1254.9 326.9L1256.5 311.7L1258.1 322.4L1259.7 307.3L1261.3 317.0L1262.9 306.9L1264.4 308.4L1266.0 313.8L1267.6 318.4L1269.2 310.1L1270.8 306.6L1272.4 327.8L1274.0 316.2L1275.2 320.0L1275.8 200.0L1276.5 103.5L1277.3 120.0L1279.0 139.9L1280.5 130.3L1282.0 97.3L1283.5 131.1L1285.0 114.7L1286.5 114.8L1288.0 130.7L1289.5 123.2L1291.0 138.9L1292.5 119.6L1294.0 126.1L1295.5 123.8L1297.0 130.7L1298.5 120.0L1300.0 125.7L1301.5 121.4L1303.0 125.3L1304.5 114.7L1306.0 134.2L1307.5 110.1L1309.0 137.7L1310.5 110.4L1312.0 114.0L1313.5 128.6L1315.0 114.1L1316.5 137.3L1318.0 120.3L1319.5 136.6L1321.0 139.1L1322.5 118.5L1324.0 138.6L1325.5 122.0L1327.0 125.6L1328.5 130.7L1330.0 126.6L1331.5 111.4L1333.0 132.0L1334.5 112.6L1336.0 146.8L1337.5 124.5L1339.0 130.8L1340.5 124.2L1342.0 132.7L1343.5 122.8L1345.0 120.6L1346.5 134.7L1348.0 127.6L1349.5 134.0L1351.0 127.6L1352.5 147.8L1354.0 119.7L1355.5 140.5L1357.0 102.2L1358.5 123.5L1360.0 108.1L1361.5 127.4L1363.0 116.1L1364.5 121.9L1366.0 121.0L1368.5 60.0L1369.2 80.0L1371.0 62.1L1372.6 84.5L1374.2 77.8L1375.8 85.9L1377.4 80.4L1379.0 80.0L1380.6 81.6L1382.2 96.3L1383.9 66.5L1385.5 79.1L1387.1 90.3L1388.7 103.9L1390.3 76.7L1391.9 88.6L1393.5 84.3L1395.1 88.4L1396.7 77.3L1398.3 88.2L1399.9 79.0L1401.5 82.0L1403.1 87.9L1404.8 72.2L1406.4 86.4L1408.0 96.8L1409.6 94.8L1411.2 76.4L1412.8 91.6L1414.4 72.0L1416.0 92.4" fill="none" stroke="#d55e00" stroke-width="6.2" stroke-dasharray="6.2 10.4" stroke-linejoin="round"/>
<path d="M859.5 612.6L860.3 632.5L862.0 704.0L865.0 632.5L866.2 651.4L867.5 662.7L869.1 665.5L870.7 678.6L872.3 685.0L873.9 643.6L875.0 646.6L876.2 678.6L878.1 675.6L879.9 659.3L881.8 651.6L883.0 654.0L884.2 662.7L885.8 658.8L887.4 635.7L889.0 631.5L890.6 651.2L892.2 672.3L893.4 651.4L894.5 632.5L896.1 655.3L897.7 646.8L899.4 668.3L901.0 688.2L902.1 671.6L903.3 638.9L904.9 628.5L906.5 651.6L907.5 530.0L909.7 465.8L911.4 441.8L913.0 440.0L915.0 439.6L917.0 421.7L917.5 465.8L918.8 472.6L920.0 490.8L922.2 480.7L924.4 471.7L925.8 485.6L927.3 486.4L928.8 456.3L930.2 455.0L931.7 455.5L933.2 464.9L934.6 476.0L936.1 433.5L938.3 505.4L939.4 476.1L940.5 474.6L942.0 477.0L943.5 491.8L945.0 501.0L947.1 489.2L949.3 489.3L950.8 492.2L952.2 500.4L953.7 505.4L954.7 519.6L955.9 598.0L960.8 527.0L962.6 553.6L964.5 556.3L966.5 553.7L968.6 519.2L970.6 506.0L973.0 566.0L974.9 543.9L976.7 536.7L978.7 538.1L980.8 528.2L982.8 517.0L984.0 598.0L985.7 582.2L987.3 553.8L989.0 544.0L990.8 549.2L992.6 550.6L994.5 526.1L996.3 541.6L997.5 566.7L998.8 573.4L1000.0 607.7L1001.2 614.4L1002.4 622.4L1004.4 627.9L1006.5 632.6L1008.5 659.0L1009.8 633.9L1011.0 615.0L1012.9 640.2L1014.7 666.5L1016.5 650.9L1018.3 642.0L1020.4 627.1L1022.4 623.0L1024.5 629.7L1026.5 649.9L1028.6 657.9L1030.6 671.4L1034.2 607.7L1036.1 624.9L1038.0 637.0L1039.5 638.2L1041.0 628.0L1042.5 635.3L1044.0 629.7" fill="none" stroke="#009e73" stroke-width="6.2" stroke-dasharray="22.9 9.9" stroke-linejoin="round"/>
<path d="M1228.8 613.0L1229.5 651.0L1229.5 665.0L1230.3 700.0L1231.8 679.6L1233.4 671.0L1234.9 672.8L1236.5 674.8L1238.0 689.4L1239.5 692.5L1241.0 685.3L1242.5 688.0L1244.5 688.1L1246.4 673.4L1248.3 690.6L1250.2 692.5L1252.0 683.8L1253.7 695.3L1255.5 678.7L1257.5 673.3L1259.4 685.0L1260.9 670.9L1262.5 673.2L1264.0 678.7L1265.9 680.4L1267.8 691.0L1268.9 703.7L1270.0 706.3L1271.6 716.3L1273.1 690.7L1274.7 689.4L1276.6 430.4L1277.1 459.6L1279.0 454.2L1281.0 440.0L1282.5 446.5L1283.9 449.5L1285.4 445.3L1286.8 460.1L1288.1 468.4L1289.5 457.6L1290.9 432.0L1292.3 448.8L1293.7 467.3L1295.8 457.8L1298.0 449.7L1299.2 452.0L1300.3 459.6L1302.0 465.0L1303.6 442.1L1305.2 444.5L1306.9 444.2L1309.1 438.2L1311.3 454.0L1312.4 468.4L1314.2 455.7L1316.1 456.0L1317.9 449.7L1319.7 447.8L1321.6 425.0L1323.4 423.2L1324.5 437.5L1325.6 461.0L1326.7 461.8L1328.5 461.2L1330.4 478.0L1332.2 476.0L1333.8 480.1L1335.5 454.0L1337.3 456.7L1339.2 474.5L1341.0 467.3L1342.8 464.5L1344.7 458.9L1346.5 460.7L1348.0 466.2L1349.5 477.3L1351.0 482.7L1352.5 464.0L1353.9 466.2L1355.4 439.8L1356.5 467.3L1358.0 456.4L1359.4 451.2L1360.9 426.5L1362.0 436.7L1363.1 456.3L1364.7 446.5L1366.4 453.1L1368.0 448.6L1369.3 634.5L1371.0 635.4L1372.7 649.0L1374.7 640.6L1376.6 651.5L1378.6 637.4L1379.5 656.2L1380.5 666.8L1382.5 647.5L1384.5 647.2L1386.1 665.6L1387.8 655.2L1389.4 664.8L1391.0 666.7L1392.6 648.6L1394.2 643.3L1395.8 650.2L1397.5 652.4L1399.1 670.7L1401.0 654.8L1403.0 637.4L1404.0 644.5L1405.0 649.0L1407.0 665.3L1409.0 674.6L1410.0 659.0L1411.4 668.6L1412.8 664.8L1414.4 645.9L1416.0 655.0" fill="none" stroke="#cc79a7" stroke-width="6.2" stroke-dasharray="39.7 9.9 6.2 9.9" stroke-linejoin="round"/>
<path d="M859.4 194.3L1044.0 194.3" stroke="#808080" stroke-width="4.2" stroke-dasharray="15.2 6.7"/>
<path d="M1228.8 62.6L1416.0 62.6" stroke="#808080" stroke-width="4.2" stroke-dasharray="15.2 6.7"/>
<path d="M859.4 563.2L1042.5 563.2" stroke="#808080" stroke-width="4.2" stroke-dasharray="15.2 6.7"/>
<path d="M1228.0 551.1L1416.0 551.1" stroke="#808080" stroke-width="4.2" stroke-dasharray="15.2 6.7"/>
</svg></body></html>
